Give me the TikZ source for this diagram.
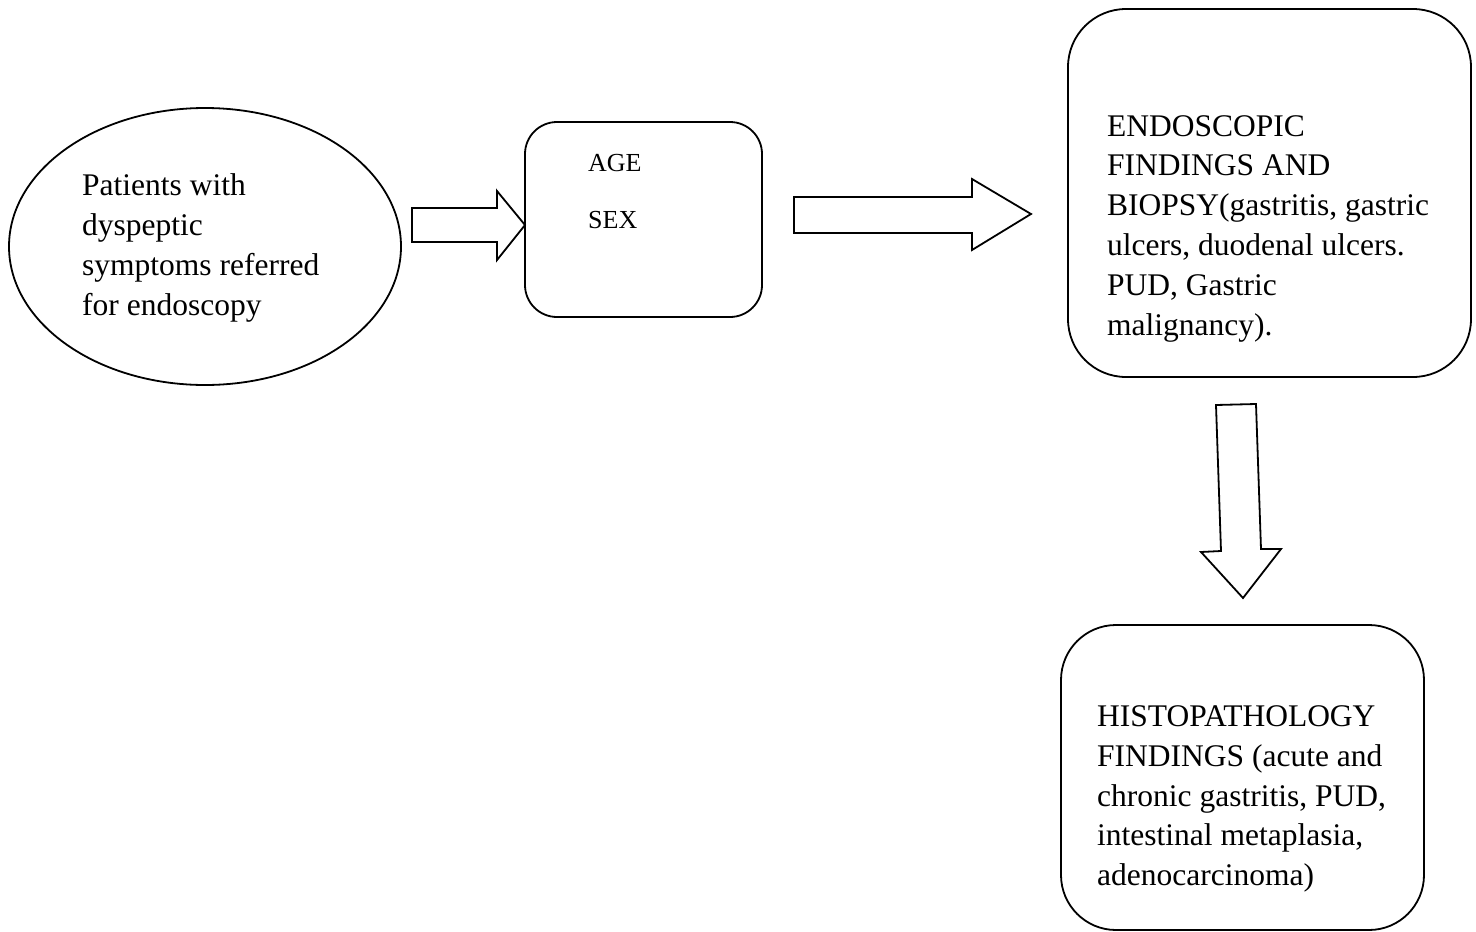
\documentclass[tikz,border=0pt]{standalone}
\usepackage{fontspec}
\setmainfont{Liberation Serif}
\usetikzlibrary{shapes.geometric}
\begin{document}
\begin{tikzpicture}[x=1pt,y=-1pt,
  outline/.style={draw=black,line width=1.8pt},
  rbox/.style={outline,rectangle,inner sep=0pt},
  bigtext/.style={inner sep=0pt,anchor=north west,align=left,font=\fontsize{31.5}{39.8}\selectfont},
  smalltext/.style={inner sep=0pt,anchor=north west,align=left,font=\fontsize{26}{57}\selectfont},
  blockarrow/.style={outline,line join=miter,fill=white}]
\useasboundingbox (0,0) rectangle (1476,932);
% shapes
\node[outline,ellipse,inner sep=0pt,minimum width=392pt,minimum height=277pt] (pat) at (205,246.5) {};
\node[rbox,rounded corners=32pt,minimum width=237pt,minimum height=195pt] (age) at (643.5,219.5) {};
\node[rbox,rounded corners=58pt,minimum width=403pt,minimum height=368pt] (endo) at (1269.5,193) {};
\node[rbox,rounded corners=55pt,minimum width=363pt,minimum height=305pt] (histo) at (1242.5,777.5) {};
% texts
\node[bigtext,font=\fontsize{31.5}{40.2}\selectfont] (pattext) at (82,167) {\strut Patients with\\dyspeptic\\symptoms referred\\for endoscopy};
\node[smalltext] (agetext) at (588,131.1) {\strut AGE\\SEX};
\node[bigtext] (endotext) at (1107,108) {\strut ENDOSCOPIC\\FINDINGS AND\\BIOPSY(gastritis, gastric\\ulcers, duodenal ulcers.\\PUD, Gastric\\malignancy).};
\node[bigtext] (histotext) at (1097,698.5) {\strut HISTOPATHOLOGY\\FINDINGS (acute and\\chronic gastritis, PUD,\\intestinal metaplasia,\\adenocarcinoma)};
% block arrows
\draw[blockarrow] (412,208) -- (497,208) -- (497,191) -- (525,225) -- (497,260) -- (497,242) -- (412,242) -- cycle;
\draw[blockarrow] (794,197) -- (972,197) -- (972,179) -- (1031,214) -- (972,250) -- (972,233) -- (794,233) -- cycle;
\draw[blockarrow] (1216,405) -- (1256,404) -- (1261,549) -- (1281,549) -- (1243,598) -- (1201,552) -- (1221,551) -- cycle;
\end{tikzpicture}
\end{document}
